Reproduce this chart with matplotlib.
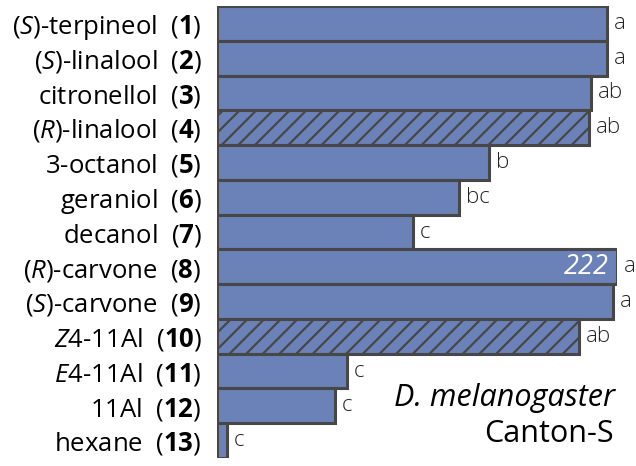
import matplotlib
matplotlib.use("Agg")
import matplotlib.pyplot as plt
import numpy as np

plt.rcParams['font.family'] = ['Open Sans', 'DejaVu Sans']
plt.rcParams['mathtext.fontset'] = 'custom'
plt.rcParams['mathtext.rm'] = 'Open Sans'
plt.rcParams['mathtext.it'] = 'Open Sans:italic'
plt.rcParams['mathtext.bf'] = 'Open Sans:bold'
plt.rcParams['hatch.color'] = '#474747'
plt.rcParams['hatch.linewidth'] = 1.6

names = [r"($\mathit{S}$)-terpineol", r"($\mathit{S}$)-linalool", "citronellol",
         r"($\mathit{R}$)-linalool", "3-octanol", "geraniol", "decanol",
         r"($\mathit{R}$)-carvone", r"($\mathit{S}$)-carvone", r"$\mathit{Z}$4-11Al",
         r"$\mathit{E}$4-11Al", "11Al", "hexane"]
numbers = list(range(1, 14))
values = [195, 195, 187, 186, 136, 121, 98, 222, 198, 181, 65, 59, 5]
letters = ["a", "a", "ab", "ab", "b", "bc", "c", "a", "a", "ab", "c", "c", "c"]
hatched = [False, False, False, True, False, False, False, False, False, True, False, False, False]
axis_max = 200

fig = plt.figure(figsize=(6.36, 4.66), dpi=100)
ax = fig.add_axes([217/636, 8/466, 400/636, 452/466])

y = np.arange(len(values))
shown = [min(v, axis_max) for v in values]
for yi, w, h in zip(y, shown, hatched):
    ax.barh(yi, w, height=1.0, color='#6a82b8', edgecolor='#474747', linewidth=2.2,
            hatch='//' if h else None, align='center')

ax.set_xlim(0, axis_max)
ax.set_ylim(len(values) - 0.5, -0.5)
ax.set_yticks(y)
ax.set_yticklabels([f"{n}  ($\\mathbf{{{k}}}$)" for n, k in zip(names, numbers)], fontsize=18.5)
ax.tick_params(axis='y', length=0, pad=11)
ax.set_xticks([])
for s in ax.spines.values():
    s.set_visible(False)

for yi, w, l in zip(y, shown, letters):
    ax.annotate(l, (w, yi), xytext=(5, 0), textcoords='offset points', va='center', ha='left',
                fontsize=16, color='#222222', fontweight='light')

for yi, v, w in zip(y, values, shown):
    if v > axis_max:
        ax.annotate(str(v), (w, yi), xytext=(-6, 0), textcoords='offset points', va='center',
                    ha='right', fontsize=19.5, color='white', style='italic')

fig.text(615/636, (466-398)/466, "D. melanogaster", ha='right', va='center', fontsize=22,
         style='italic')
fig.text(614/636, (466-434)/466, "Canton-S", ha='right', va='center', fontsize=22)

fig.savefig("out.png", dpi=100)
